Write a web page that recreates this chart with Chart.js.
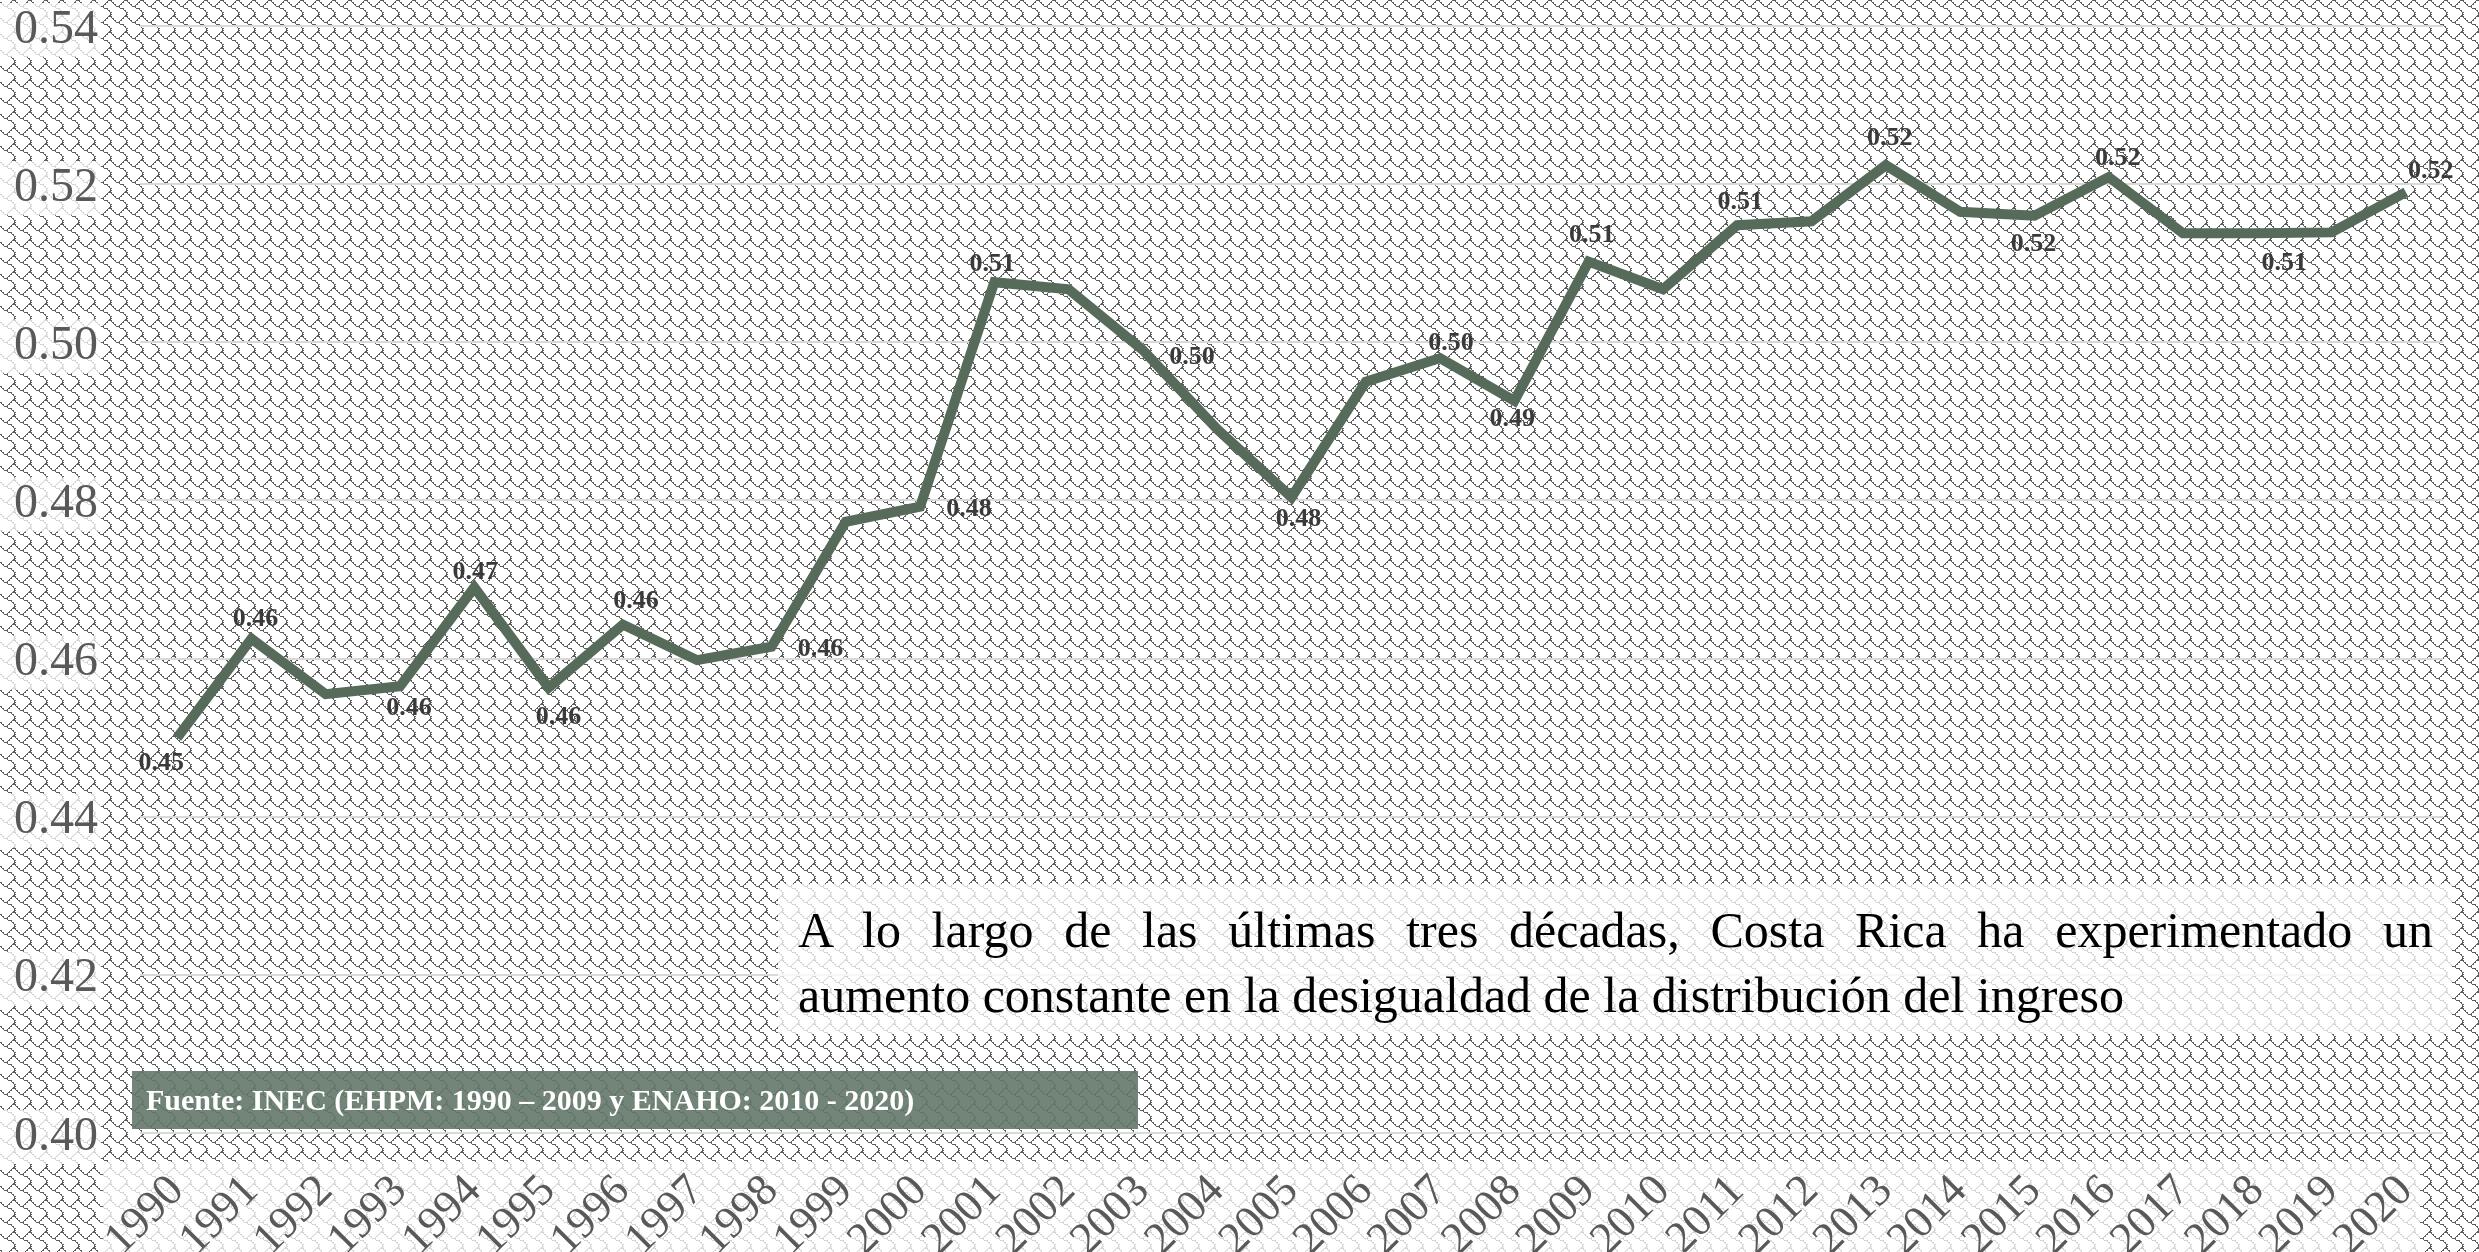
<!DOCTYPE html>
<html>
<head>
<meta charset="utf-8">
<script src="https://cdn.jsdelivr.net/npm/chart.js@4.4.0/dist/chart.umd.min.js"></script>
<style>
html,body{margin:0;padding:0;background:#fff;}
#wrap{position:relative;width:2479px;height:1252px;overflow:hidden;}
#c{position:absolute;left:0;top:0;}
#note{position:absolute;left:778px;top:884px;width:1674px;height:150px;box-sizing:border-box;padding:14px 19px 0 20px;background:rgba(255,255,255,0.75);font-family:"Liberation Serif","Times New Roman",serif;font-size:50px;line-height:65px;color:#000;}
#note .l1{text-align:justify;text-align-last:justify;}
#note .l2{text-align:left;}
#src{position:absolute;left:132px;top:1071px;width:1006px;height:58px;box-sizing:border-box;padding-left:14px;background:rgba(100,120,105,0.9);color:#fff;font-family:"Liberation Serif","Times New Roman",serif;font-weight:bold;font-size:30px;line-height:58px;white-space:nowrap;}
</style>
</head>
<body>
<div id="wrap">
<canvas id="c" width="2479" height="1252"></canvas>
<div id="note"><div class="l1">A lo largo de las últimas tres décadas, Costa Rica ha experimentado un</div><div class="l2">aumento constante en la desigualdad de la distribución del ingreso</div></div>
<div id="src">Fuente: INEC (EHPM: 1990 – 2009 y ENAHO: 2010 - 2020)</div>
</div>
<script>
const years = ['1990','1991','1992','1993','1994','1995','1996','1997','1998','1999','2000','2001','2002','2003','2004','2005','2006','2007','2008','2009','2010','2011','2012','2013','2014','2015','2016','2017','2018','2019','2020'];
const gini = [0.450,0.4625,0.4555,0.4565,0.469,0.4563,0.4643,0.4598,0.4615,0.4773,0.4792,0.5076,0.5067,0.4990,0.4890,0.4804,0.4950,0.4980,0.4926,0.5102,0.5067,0.5148,0.5153,0.5224,0.5165,0.5160,0.5209,0.5138,0.5138,0.5139,0.5190];
const yMin = 0.40, yMax = 0.54, yStep = 0.02;

// label placement (pixel offsets from point, null = no label)
const labelOffsets = [[-16,26],[4,-20],null,[9,22],[1,-15],[10,29],[13,-23],null,[49,3],null,[49,3],[-2,-18],null,[49,7],null,[7,22],null,[11,-15],[-2,18],[3,-26],null,[3,-23],null,[4,-27],null,[-1,29],[9,-19],null,[27,30],null,[25,-21]];

const shingle = [0x03,0x84,0x48,0x30,0x0c,0x02,0x01,0x01];
const serif = '"Liberation Serif","Times New Roman",serif';

function makeTile(){
  const off = document.createElement('canvas'); off.width = 16; off.height = 16;
  const o = off.getContext('2d');
  o.fillStyle = '#fff'; o.fillRect(0,0,16,16);
  o.fillStyle = '#5c5c5c';
  const on = (c,r)=> (shingle[((r%8)+8)%8] & (0x80>>(((c%8)+8)%8))) !== 0;
  const px = (x,y)=> o.fillRect(((x%16)+16)%16, ((y%16)+16)%16, 1, 1);
  for (let r=0;r<8;r++) for (let c=0;c<8;c++) {
    if (!on(c,r)) continue;
    px(2*c,2*r); px(2*c+1,2*r);
    [[1,0],[0,1],[1,1],[-1,1]].forEach(([dx,dy])=>{
      if (on(c+dx,r+dy)) { px(2*c+dx,2*r+dy); }
    });
  }
  return off;
}

const bgPlugin = {
  id:'bg',
  beforeDraw(chart){
    const ctx = chart.ctx;
    ctx.save();
    ctx.fillStyle = ctx.createPattern(makeTile(),'repeat');
    ctx.fillRect(0,0,chart.width,chart.height);
    const xs = chart.scales.x, ca = chart.chartArea;
    ctx.fillStyle = 'rgba(255,255,255,0.75)';
    const x0 = ca.left-37, x1 = ca.right-23, y0 = xs.top+29;
    ctx.fillRect(x0, y0, x1-x0, chart.height-y0);
    ctx.restore();
  }
};

const labelPlugin = {
  id:'vlabels',
  afterDatasetsDraw(chart){
    const ctx = chart.ctx, meta = chart.getDatasetMeta(0);
    ctx.save();
    ctx.font = 'bold 26px ' + serif;
    ctx.fillStyle = '#3a3a3a';
    ctx.textAlign = 'center'; ctx.textBaseline = 'middle';
    meta.data.forEach((pt,i)=>{
      const off = labelOffsets[i]; if (!off) return;
      ctx.fillText(gini[i].toFixed(2), pt.x+off[0], pt.y+off[1]);
    });
    ctx.restore();
  }
};

new Chart(document.getElementById('c'), {
  type:'line',
  data:{labels:years, datasets:[{data:gini, borderColor:'#576b5a', borderWidth:10, pointRadius:0, pointHoverRadius:0, tension:0, fill:false, borderCapStyle:'butt', borderJoinStyle:'miter'}]},
  options:{
    responsive:false, animation:false, devicePixelRatio:1,
    layout:{padding:{top:26,right:36,bottom:0,left:0}},
    plugins:{legend:{display:false}, tooltip:{enabled:false}},
    scales:{
      x:{offset:true, grid:{display:false}, border:{display:false},
        ticks:{autoSkip:false, minRotation:45, maxRotation:45, padding:24, color:'#595959', font:{family:serif, size:45}},
        afterFit(s){ s.height = 119; }},
      y:{min:yMin, max:yMax, grid:{color:'#d9d9d9', lineWidth:2, drawTicks:true, tickLength:42, tickColor:'rgba(0,0,0,0)'}, border:{display:false},
        ticks:{stepSize:yStep, padding:0, labelOffset:4, color:'#595959', font:{family:serif, size:48, lineHeight:1}, callback:v=>v.toFixed(2),
          showLabelBackdrop:true, backdropColor:'rgba(255,255,255,0.75)', backdropPadding:{left:15,right:3,top:3,bottom:3}},
        afterFit(s){ s.width = 140; }}
    }
  },
  plugins:[bgPlugin, labelPlugin]
});
</script>
</body>
</html>
